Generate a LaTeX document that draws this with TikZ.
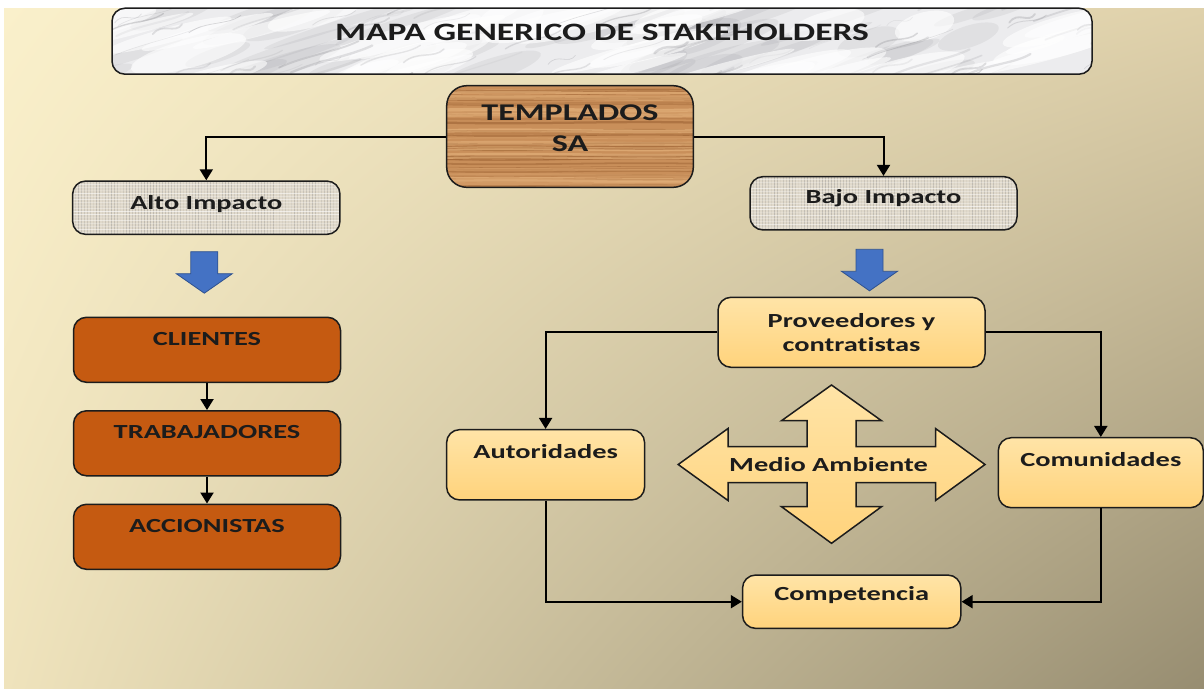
\documentclass[tikz,border=0pt]{standalone}
\usepackage{fontspec}
\setmainfont{Carlito}[FakeStretch=1.42, Ligatures=CommonOff]
\usetikzlibrary{arrows.meta,shadings}

\definecolor{rust}{HTML}{C55A11}
\definecolor{peachtop}{HTML}{FFE4A7}
\definecolor{peachbot}{HTML}{FFD37C}
\definecolor{arrowblue}{HTML}{4472C4}
\definecolor{arrowedge}{HTML}{2F528F}
\definecolor{woodbase}{HTML}{C98F5A}
\definecolor{woodgrain}{HTML}{9C6233}
\definecolor{woodlight}{HTML}{E4B27C}
\definecolor{clothbase}{HTML}{E0D9CB}
\definecolor{inkdark}{HTML}{1C1C1C}
\definecolor{marblebase}{HTML}{ECECEE}
\definecolor{marblevein}{HTML}{7A7A80}
\definecolor{bgtl}{HTML}{FAF0CB}
\definecolor{bgtr}{HTML}{DFD1AB}
\definecolor{bgbl}{HTML}{EFE3BC}
\definecolor{bgbr}{HTML}{978D71}

\tikzset{
  box/.style={draw=inkdark, line width=1.5pt, rounded corners=13pt, inner sep=0pt,
    text=inkdark, font=\fontsize{20}{24}\selectfont\bfseries},
  rustbox/.style={box, fill=rust, minimum width=267pt, text height=28pt, text depth=37pt},
  peach/.style={draw=inkdark, line width=1.5pt, top color=peachtop, bottom color=peachbot},
  peachbox/.style={box, peach},
  marble/.style={fill=marblebase, path picture={
      \pgfmathsetseed{11}
      \foreach \k in {1,...,45}{
        \pgfmathsetmacro\mkx{rnd*1000-20}
        \pgfmathsetmacro\mky{rnd*80}
        \pgfmathsetmacro\mkw{4+rnd*10}
        \pgfmathsetmacro\mkl{30+rnd*60}
        \fill[marblevein, opacity=0.10]
          ([shift={(\mkx,\mky)}]path picture bounding box.north west)
          ellipse [x radius=\mkl pt, y radius=\mkw pt, rotate=18];
      }
      \foreach \k in {1,...,40}{
        \pgfmathsetmacro\mkx{rnd*1000-20}
        \pgfmathsetmacro\mky{rnd*80}
        \pgfmathsetmacro\mkw{5+rnd*10}
        \pgfmathsetmacro\mkl{30+rnd*70}
        \fill[white, opacity=0.6]
          ([shift={(\mkx,\mky)}]path picture bounding box.north west)
          ellipse [x radius=\mkl pt, y radius=\mkw pt, rotate=15];
      }
      \foreach \k in {1,...,70}{
        \pgfmathsetmacro\mkx{rnd*1000-20}
        \pgfmathsetmacro\mky{rnd*90}
        \pgfmathsetmacro\mkl{25+rnd*70}
        \pgfmathsetmacro\mkw{0.5+rnd*2}
        \pgfmathsetmacro\mko{0.06+rnd*0.22}
        \draw[marblevein, line width=\mkw pt, opacity=\mko, line cap=round]
          ([shift={(\mkx,\mky)}]path picture bounding box.north west)
          .. controls +(\mkl/3,-12) and +(-\mkl/4,10) .. +(\mkl,-\mkl/3);
      }}},
  wood/.style={fill=woodbase, path picture={
      \pgfmathsetseed{5}
      \foreach \k in {1,...,40}{
        \pgfmathsetmacro\wdy{rnd*104}
        \pgfmathsetmacro\wdo{0.2+rnd*0.5}
        \pgfmathsetmacro\wdw{0.5+rnd*2}
        \draw[woodgrain, line width=\wdw pt, opacity=\wdo]
          ([yshift=-\wdy pt]path picture bounding box.north west)
          .. controls +(80,2) and +(-80,-2) .. +(250,0);
      }
      \foreach \k in {1,...,30}{
        \pgfmathsetmacro\wdy{rnd*104}
        \pgfmathsetmacro\wdo{0.2+rnd*0.5}
        \pgfmathsetmacro\wdw{0.8+rnd*2.5}
        \draw[woodlight, line width=\wdw pt, opacity=\wdo]
          ([yshift=-\wdy pt]path picture bounding box.north west)
          .. controls +(90,-2) and +(-70,2) .. +(250,0);
      }}},
  cloth/.style={fill=clothbase, path picture={
      \pgfmathsetseed{3}
      \foreach \k in {0,3,...,270}{
        \pgfmathsetmacro\clo{0.06+rnd*0.3}
        \draw[gray, line width=1pt, opacity=\clo]
          ([xshift=\k pt]path picture bounding box.north west) --
          ([xshift=\k pt]path picture bounding box.south west);
      }
      \foreach \k in {0,3,...,54}{
        \pgfmathsetmacro\clo{0.15+rnd*0.45}
        \draw[white, line width=1pt, opacity=\clo]
          ([yshift=-\k pt]path picture bounding box.north west) --
          ([yshift=-\k pt]path picture bounding box.north east);
      }}},
  conn/.style={draw=black, line width=2pt, -{Triangle[length=11pt,width=13pt]}},
}

\begin{document}
\begin{tikzpicture}[x=1pt,y=-1pt]
  \useasboundingbox (0,0) rectangle (1204,688);
  % background
  \fill[white] (0,0) rectangle (1204,688);
  \shade[upper left=bgtl, upper right=bgtr, lower left=bgbl, lower right=bgbr]
    (4,8) rectangle (1204,688);

  % title and company
  \node[box, marble, minimum width=980pt, text height=32pt, text depth=34pt,
    font=\fontsize{25}{30}\selectfont\bfseries] (titulo) at (602,41.2)
    {MAPA GENERICO DE STAKEHOLDERS};
  \node[box, wood, rounded corners=20pt, minimum width=246.6pt, text height=35pt,
    text depth=66.6pt, font=\fontsize{24}{31}\selectfont\bfseries] (templados) at (570,136.5)
    {\begin{tabular}[t]{@{}c@{}}TEMPLADOS\\SA\end{tabular}};

  % impact levels
  \node[box, cloth, minimum width=267.3pt, text height=28.3pt, text depth=25pt]
    (alto) at (206.3,207.7) {Alto Impacto};
  \node[box, cloth, minimum width=267pt, text height=27pt, text depth=26.3pt]
    (bajo) at (883.5,203.3) {Bajo Impacto};

  \draw[conn] (templados.west) -| (alto.north);
  \draw[conn] (templados.east) -| (bajo.north);

  % block arrows
  \foreach \bx/\by in {204.3/251.7, 869.5/249.3}
    \draw[arrowedge, fill=arrowblue, line width=0.8pt]
      (\bx-13.5,\by) -- (\bx+13.5,\by) -- (\bx+13.5,\by+22) -- (\bx+28,\by+22)
      -- (\bx,\by+41.5) -- (\bx-28,\by+22) -- (\bx-13.5,\by+22) -- cycle;

  % high impact
  \node[rustbox] (clientes) at (207,349.8) {CLIENTES};
  \node[rustbox] (trabajadores) at (207,443.3) {TRABAJADORES};
  \node[rustbox] (accionistas) at (207,536.8) {ACCIONISTAS};
  \draw[conn] (clientes) -- (trabajadores);
  \draw[conn] (trabajadores) -- (accionistas);

  % low impact
  \node[peachbox, align=center, minimum width=267pt, minimum height=70pt,
    font=\fontsize{20}{24.4}\selectfont\bfseries] (proveedores) at (851.5,332.3)
    {Proveedores y\\contratistas};
  \node[peachbox, minimum width=198pt, text height=29pt, text depth=41.3pt]
    (autoridades) at (545.6,464.8) {Autoridades};
  \node[peachbox, minimum width=205pt, text height=29pt, text depth=41pt]
    (comunidades) at (1100.8,472.7) {Comunidades};
  \node[peachbox, minimum width=218.3pt, text height=25.6pt, text depth=27.7pt]
    (competencia) at (851.7,601.7) {Competencia};

  \begin{scope}[shift={(831.5,464.5)}]
    \draw[peach, line join=miter]
      (-153.3,0) -- (-103.5,-36) -- (-103.5,-18) -- (-24.5,-18) -- (-24.5,-43.8)
      -- (-50,-43.8) -- (0,-79.5) -- (50,-43.8) -- (24.5,-43.8) -- (24.5,-18)
      -- (104,-18) -- (104,-36) -- (153.5,0) -- (104,36) -- (104,18) -- (24.5,18)
      -- (24.5,42.2) -- (50,42.2) -- (0,78.8) -- (-50,42.2) -- (-24.5,42.2)
      -- (-24.5,18) -- (-103.5,18) -- (-103.5,36) -- cycle;
    \node[anchor=base, inner sep=0pt, text=inkdark, font=\fontsize{20}{24}\selectfont\bfseries]
      (medio) at (-3,6.5) {Medio Ambiente};
  \end{scope}

  \draw[conn] (proveedores.west) -| (autoridades.north);
  \draw[conn] (proveedores.east) -| (comunidades.north);
  \draw[conn] (autoridades.south) |- (competencia.west);
  \draw[conn] (comunidades.south) |- (competencia.east);
\end{tikzpicture}
\end{document}
